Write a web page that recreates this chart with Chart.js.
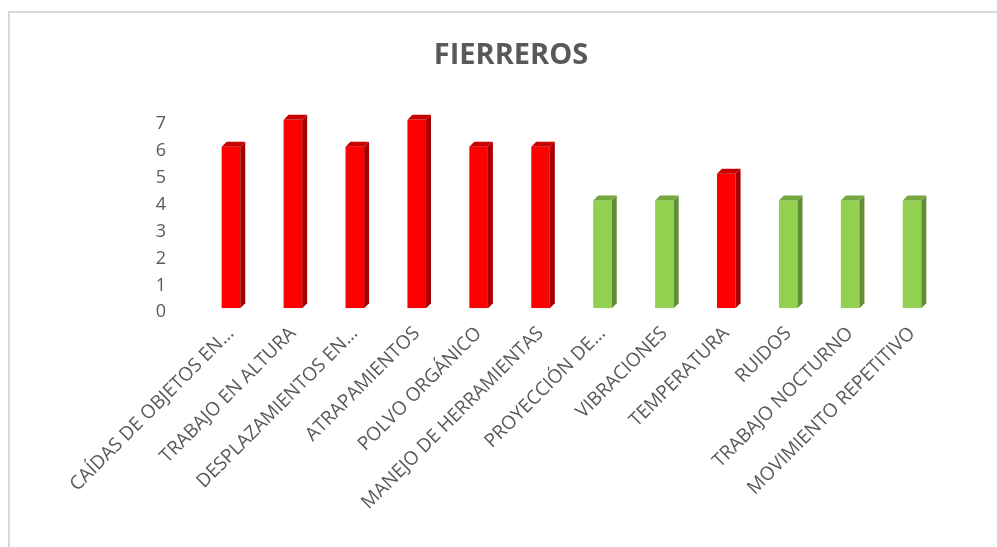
<!DOCTYPE html>
<html>
<head>
<meta charset="utf-8">
<script src="https://cdn.jsdelivr.net/npm/chart.js@4/dist/chart.umd.min.js"></script>
<style>
  html, body { margin: 0; padding: 0; background: #fff; }
  #wrap { position: relative; width: 997px; height: 547px; overflow: hidden; }
  #frame { position: absolute; left: 8px; top: 11px; width: 1100px; height: 600px;
           border-left: 2px solid #d9d9d9; border-top: 2px solid #d9d9d9; }
  canvas { position: absolute; left: 0; top: 0; }
</style>
</head>
<body>
<div id="wrap">
  <div id="frame"></div>
  <canvas id="chart" width="997" height="547"></canvas>
</div>
<script>
const categories = [
  "CAÍDAS DE OBJETOS EN...",
  "TRABAJO EN ALTURA",
  "DESPLAZAMIENTOS EN...",
  "ATRAPAMIENTOS",
  "POLVO ORGÁNICO",
  "MANEJO DE HERRAMIENTAS",
  "PROYECCIÓN DE...",
  "VIBRACIONES",
  "TEMPERATURA",
  "RUIDOS",
  "TRABAJO NOCTURNO",
  "MOVIMIENTO REPETITIVO"
];
const values = [6, 7, 6, 7, 6, 6, 4, 4, 5, 4, 4, 4];
const yTicks = [0, 1, 2, 3, 4, 5, 6, 7];

const RED = { front: "#ff0000", side: "#a80000", top: "#c80000" };
const GREEN = { front: "#92d050", side: "#638c37", top: "#74a83f" };
const pick = v => (v >= 5 ? RED : GREEN);

// draws the side and top faces so the bars look like the excel 3d columns
const bars3d = {
  id: "bars3d",
  afterDatasetsDraw(chart) {
    const ctx = chart.ctx;
    const d = 5;
    chart.getDatasetMeta(0).data.forEach((bar, i) => {
      const c = pick(values[i]);
      const half = bar.width / 2;
      const l = bar.x - half, r = bar.x + half;
      ctx.save();
      ctx.fillStyle = c.side;
      ctx.beginPath();
      ctx.moveTo(r, bar.y);
      ctx.lineTo(r + d, bar.y - d);
      ctx.lineTo(r + d, bar.base - d);
      ctx.lineTo(r, bar.base);
      ctx.closePath();
      ctx.fill();
      ctx.fillStyle = c.top;
      ctx.beginPath();
      ctx.moveTo(l, bar.y);
      ctx.lineTo(l + d, bar.y - d);
      ctx.lineTo(r + d, bar.y - d);
      ctx.lineTo(r, bar.y);
      ctx.closePath();
      ctx.fill();
      ctx.restore();
    });
  }
};

new Chart(document.getElementById("chart"), {
  type: "bar",
  data: {
    labels: categories,
    datasets: [{
      data: values,
      backgroundColor: values.map(v => pick(v).front),
      borderWidth: 0,
      barPercentage: 0.6,
      categoryPercentage: 0.5
    }]
  },
  options: {
    responsive: false,
    animation: false,
    events: [],
    layout: { padding: { left: 79, right: 54, top: 0, bottom: 19 } },
    plugins: {
      legend: { display: false },
      tooltip: { enabled: false },
      title: {
        display: true,
        text: "FIERREROS",
        color: "#595959",
        font: { family: "Open Sans", size: 29, weight: "bold" },
        padding: { top: 38, bottom: 47 }
      }
    },
    scales: {
      x: {
        grid: { display: false, drawTicks: false },
        border: { display: false },
        afterFit: s => { s.paddingLeft = 0; s.paddingRight = 0; },
        ticks: {
          autoSkip: false,
          minRotation: 45,
          maxRotation: 45,
          padding: 14,
          color: "#595959",
          font: { family: "Open Sans", size: 19 }
        }
      },
      y: {
        min: 0,
        max: 7,
        grid: { display: false, drawTicks: false },
        border: { display: false },
        afterBuildTicks: axis => { axis.ticks = yTicks.map(v => ({ value: v })); },
        afterFit: s => { s.width = 121; },
        ticks: {
          padding: 34,
          labelOffset: 4,
          color: "#595959",
          font: { family: "Open Sans", size: 18 }
        }
      }
    }
  },
  plugins: [bars3d]
});
</script>
</body>
</html>
